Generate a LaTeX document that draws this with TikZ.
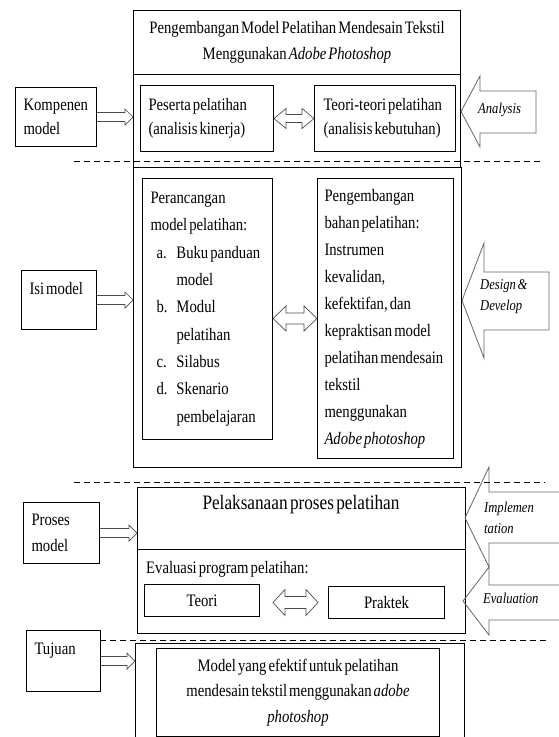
\documentclass[tikz,border=0pt]{standalone}
\usepackage{fontspec}
\setmainfont{Liberation Serif}[FakeStretch=0.84, WordSpace=0.55]
\usepackage{tikz}
\usetikzlibrary{calc}

\newcommand{\ukuran}[1]{\fontsize{17.5pt}{#1pt}\selectfont}
\newcommand{\rapat}{\spaceskip=0pt\relax\xspaceskip=0pt\relax\hyphenpenalty=10000\relax}
\newcommand{\hollowarrow}[2]{%
  \draw[hollow] let \p1=(#1), \p2=(#2) in
    (\x1,\y1+4.5pt) -- (\x2-8pt,\y1+4.5pt) -- (\x2-8pt,\y1+8pt) -- (\x2,\y1)
    -- (\x2-8pt,\y1-8pt) -- (\x2-8pt,\y1-4.5pt) -- (\x1,\y1-4.5pt);}
\newcommand{\twowayarrow}[5]{%
  \draw[hollow] let \p1=(#1), \p2=(#2) in
    (\x1,\y2) -- (\x1+#5,\y2+#4) -- (\x1+#5,\y2+#3) -- (\x2-#5,\y2+#3)
    -- (\x2-#5,\y2+#4) -- (\x2,\y2) -- (\x2-#5,\y2-#4) -- (\x2-#5,\y2-#3)
    -- (\x1+#5,\y2-#3) -- (\x1+#5,\y2-#4) -- cycle;}

\tikzset{
  kotak/.style={draw, line width=1pt, anchor=north west, inner sep=0pt},
  kiri/.style={kotak, align=left, inner xsep=8pt, font=\ukuran{24}, execute at begin node=\rapat},
  hollow/.style={draw=black!70, line width=0.7pt},
  panah/.style={draw=black!60, line width=0.8pt},
  putus/.style={line width=0.8pt, dash pattern=on 6pt off 4pt},
  miring/.style={font=\fontsize{15pt}{21pt}\selectfont\itshape, align=left, anchor=west, inner sep=0pt,
    execute at begin node=\rapat}
}

\begin{document}
\begin{tikzpicture}[x=1pt,y=-1pt]
	\useasboundingbox (0,0) rectangle (559,737);
	\node[kotak, minimum width=327pt, minimum height=64pt, align=center, font=\ukuran{26}] (judul) at (133,10)
		{Pengembangan Model Pelatihan Mendesain Tekstil\\Menggunakan \textit{Adobe Photoshop}};
	\node[kotak, minimum width=327pt, minimum height=93pt] (analisis) at (133,74) {};
	\node[kotak, minimum width=328pt, minimum height=300pt] (desain) at (133,167) {};
	\node[kotak, minimum width=328pt, minimum height=62pt] (pelaksanaan) at (137,487) {};
	\node[kotak, minimum width=328pt, minimum height=84pt] (evaluasi) at (137,549) {};
	\draw[line width=1pt] (135,737) -- (135,643) -- (464,643) -- (464,737);
	\coordinate (tujuanfr) at (135,660);

	\node[kiri, minimum width=81pt, minimum height=59pt, text width=65pt] (kompenen) at (15,87) {Kompenen\\model};
	\node[kiri, minimum width=75pt, minimum height=59pt, text width=59pt] (isimodel) at (21,270) {Isi model\\\mbox{}};
	\node[kiri, minimum width=76pt, minimum height=61pt, text width=60pt, font=\ukuran{26}] (prosesmodel) at (23,502) {Proses\\model};
	\node[kiri, minimum width=74pt, minimum height=61pt, text width=58pt] (tujuan) at (26,630) {Tujuan\\\mbox{}};

	\node[kiri, minimum width=133pt, minimum height=66pt, text width=117pt] (peserta) at (140,85)
		{Peserta pelatihan\\(analisis kinerja)};
	\node[kiri, minimum width=141pt, minimum height=66pt, text width=123pt, inner xsep=9pt] (teoripel) at (314,85)
		{Teori-teori pelatihan\\(analisis kebutuhan)};
	\node[kiri, minimum width=130pt, minimum height=261pt, text width=114pt, font=\ukuran{27.3}] (perancangan) at (142,178)
		{Perancangan\\model pelatihan:\\
		\makebox[26pt][l]{\hspace{6pt}a.}Buku panduan\\\hspace*{26pt}model\\
		\makebox[26pt][l]{\hspace{6pt}b.}Modul\\\hspace*{26pt}pelatihan\\
		\makebox[26pt][l]{\hspace{6pt}c.}Silabus\\
		\makebox[26pt][l]{\hspace{6pt}d.}Skenario\\\hspace*{26pt}pembelajaran};
	\node[kiri, minimum width=136pt, minimum height=280pt, text width=122pt, inner xsep=7pt, font=\ukuran{27}] (pengembangan) at (317,178)
		{Pengembangan\\bahan pelatihan:\\Instrumen\\kevalidan,\\kefektifan, dan\\kepraktisan model\\
		pelatihan mendesain\\tekstil\\menggunakan\\\textit{Adobe photoshop}};

	\node[font=\fontsize{20.5pt}{24pt}\selectfont] (tproses) at (301,505) {Pelaksanaan proses pelatihan};
	\node[anchor=west, inner sep=0pt, font=\ukuran{24}] (tevaluasi) at (146,569) {Evaluasi program pelatihan:};
	\node[kotak, minimum width=115pt, minimum height=32pt, font=\ukuran{20}] (teori) at (144,584) {Teori};
	\node[kotak, minimum width=116pt, minimum height=32pt, font=\ukuran{20}] (praktek) at (328,586) {Praktek};
	\node[kotak, minimum width=283pt, minimum height=88pt, align=center, font=\ukuran{25.5}] (hasil) at (156,648)
		{Model yang efektif untuk pelatihan\\mendesain tekstil menggunakan \textit{adobe}\\\textit{photoshop}};

	\draw[panah] (536,91) -- (480,91) -- (480,76) -- (461,111.5) -- (480,147) -- (480,133) -- (536,133) -- cycle;
	\node[miring] (tanalysis) at (478,110) {Analysis};
	\draw[panah] (549,272) -- (484,272) -- (484,243) -- (462,300.5) -- (484,358) -- (484,330) -- (549,330) -- cycle;
	\node[miring] (tdesign) at (480,297) {Design \&\\Develop};
	\draw[panah] (559,492) -- (489,492) -- (489,467) -- (465,518) -- (489,567) -- (489,543) -- (559,543);
	\node[miring] (timplementation) at (484,517.5) {Implemen\\tation};
	\draw[panah] (559,585) -- (489,585) -- (489,567) -- (463,601) -- (489,635) -- (489,620) -- (559,620);
	\node[miring] (tevaluation) at (483,598) {Evaluation};

	\hollowarrow{kompenen.east}{analisis.west}
	\hollowarrow{isimodel.east}{desain.west}
	\hollowarrow{prosesmodel.east}{pelaksanaan.west}
	\hollowarrow{tujuan.east}{tujuanfr}
	\twowayarrow{peserta.east}{teoripel.west}{4pt}{10pt}{12pt}
	\twowayarrow{perancangan.east}{pengembangan.west}{5.5pt}{12.5pt}{13pt}
	\twowayarrow{[xshift=13pt]teori.east}{[xshift=-10pt]praktek.west}{6pt}{13pt}{12pt}

	\foreach \y/\a/\b in {161/74/543, 482/74/545, 640/100/548}
	\draw[putus] (\a,\y) -- (\b,\y);
\end{tikzpicture}
\end{document}
